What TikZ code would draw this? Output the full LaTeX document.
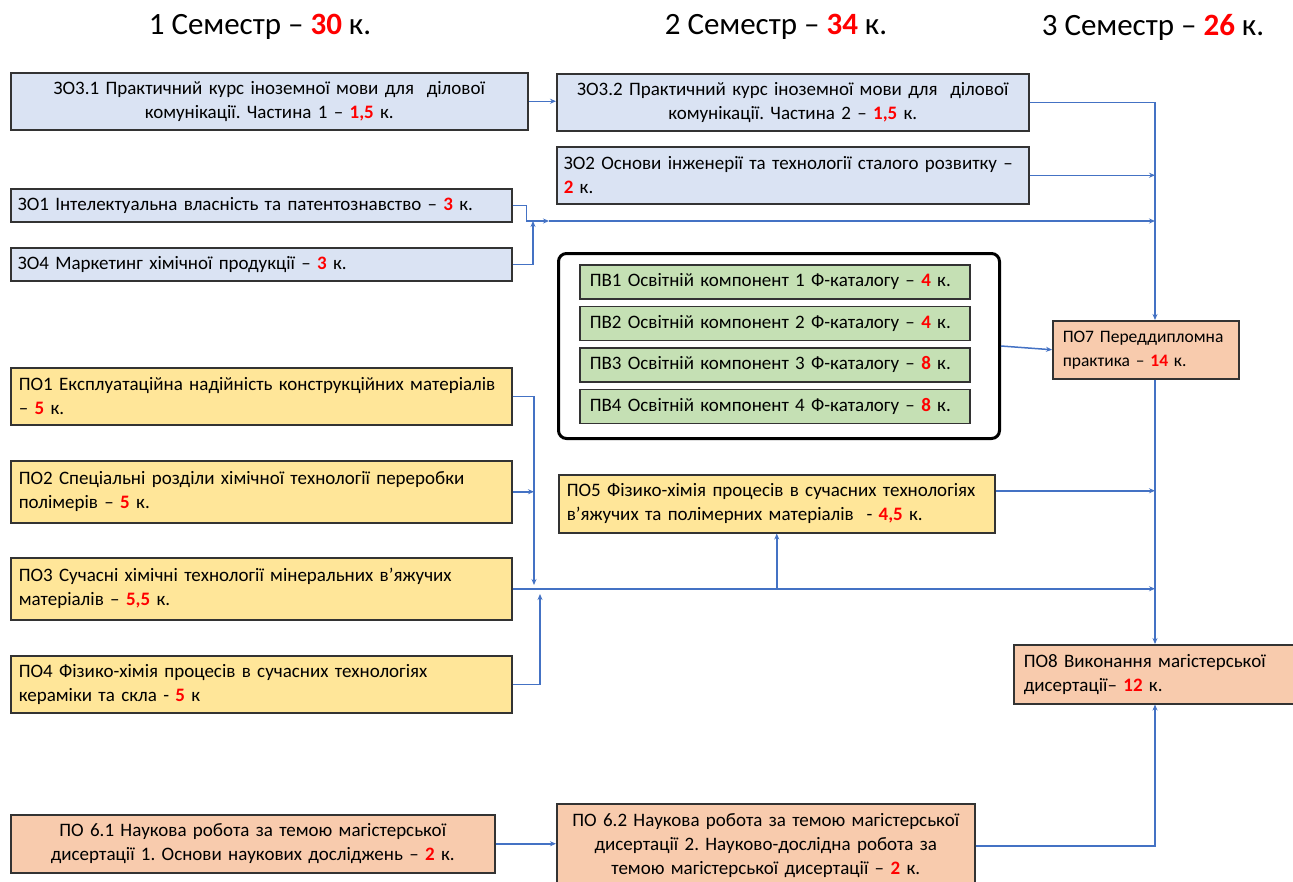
\documentclass[tikz,border=0pt]{standalone}
\usepackage{fontspec}
\setmainfont{Carlito}
\usetikzlibrary{arrows.meta,positioning}
\definecolor{azul}{HTML}{4472C4}
\definecolor{azulclaro}{HTML}{DAE3F3}
\definecolor{verde}{HTML}{C5E0B4}
\definecolor{amarillo}{HTML}{FFE699}
\definecolor{salmon}{HTML}{F8CBAD}
\definecolor{rojo}{HTML}{FF0000}
\newcommand{\kr}[1]{\textcolor{rojo}{\textbf{#1}}}
\frenchspacing
\begin{document}
\begin{tikzpicture}
[x=1pt,y=-1pt,
caja/.style={draw=black!80,line width=1.5pt,anchor=north west,inner sep=0pt,font=\fontsize{19}{24}\selectfont,align=left},
titulo/.style={font=\fontsize{31}{34}\selectfont},
linea/.style={draw=azul,line width=1.5pt},
flecha/.style={linea,-{Stealth[length=6pt,width=5pt]}}]
\useasboundingbox (0,0) rectangle (1293,881);
\node (sem1) [titulo] at (260,27) {1 Семестр – \kr{30} к.};
\node (sem2) [titulo] at (776,27) {2 Семестр – \kr{34} к.};
\node (sem3) [titulo] at (1153,27) {3 Семестр – \kr{26} к.};
% semestre 1
\node (zo31) [caja,fill=azulclaro,minimum width=517,minimum height=57,text width=503,align=center] at (10,72) {ЗО3.1 Практичний курс іноземної мови для\ \ ділової\\комунікації. Частина 1 – \kr{1,5} к.};
\node (zo1) [caja,fill=azulclaro,minimum width=501,minimum height=33,text width=487] at (10,188) {ЗО1 Інтелектуальна власність та патентознавство – \kr{3} к.};
\node (zo4) [caja,fill=azulclaro,minimum width=501,minimum height=33,text width=487] at (10,247) {ЗО4 Маркетинг хімічної продукції – \kr{3} к.};
\node (po1) [caja,fill=amarillo,minimum width=501,minimum height=57,text width=485] at (10,367) {ПО1 Експлуатаційна надійність конструкційних матеріалів\\– \kr{5} к.};
\node (po2) [caja,fill=amarillo,minimum width=501,minimum height=62,text width=485] at (10,460) {ПО2 Спеціальні розділи хімічної технології переробки\\полімерів – \kr{5} к.};
\node (po3) [caja,fill=amarillo,minimum width=501,minimum height=62,text width=485] at (10,557) {ПО3 Сучасні хімічні технології мінеральних в’яжучих\\матеріалів – \kr{5,5} к.};
\node (po4) [caja,fill=amarillo,minimum width=501,minimum height=57,text width=485] at (10,655) {ПО4 Фізико-хімія процесів в сучасних технологіях\\кераміки та скла - \kr{5} к};
\node (po61) [caja,fill=salmon,minimum width=484,minimum height=58,text width=470,align=center] at (10,814) {ПО 6.1 Наукова робота за темою магістерської\\дисертації 1. Основи наукових досліджень – \kr{2} к.};
% semestre 2
\node (zo32) [caja,fill=azulclaro,minimum width=472,minimum height=57,text width=458,align=center] at (556,73) {ЗО3.2 Практичний курс іноземної мови для\ \ ділової\\комунікації. Частина 2 – \kr{1,5} к.};
\node (zo2) [caja,fill=azulclaro,minimum width=472,minimum height=57,text width=458] at (556,146) {ЗО2 Основи інженерії та технології сталого розвитку –\\\kr{2} к.};
\node (marco) [draw=black,line width=3pt,rounded corners=8pt,anchor=north west,minimum width=441,minimum height=185] at (557,252) {};
\node (pv1) [caja,fill=verde,minimum width=390,minimum height=34,text width=370] at (579,264) {ПВ1 Освітній компонент 1 Ф-каталогу – \kr{4} к.};
\node (pv2) [caja,fill=verde,minimum width=390,minimum height=34,text width=370,below=6pt of pv1.south west,anchor=north west] {ПВ2 Освітній компонент 2 Ф-каталогу – \kr{4} к.};
\node (pv3) [caja,fill=verde,minimum width=390,minimum height=34,text width=370,below=6pt of pv2.south west,anchor=north west] {ПВ3 Освітній компонент 3 Ф-каталогу – \kr{8} к.};
\node (pv4) [caja,fill=verde,minimum width=390,minimum height=34,text width=370,below=6pt of pv3.south west,anchor=north west] {ПВ4 Освітній компонент 4 Ф-каталогу – \kr{8} к.};
\node (po5) [caja,fill=amarillo,minimum width=436,minimum height=58,text width=420] at (558,474) {ПО5 Фізико-хімія процесів в сучасних технологіях\\в’яжучих та полімерних матеріалів\ \ - \kr{4,5} к.};
\node (po62) [caja,fill=salmon,minimum width=418,minimum height=84,text width=406,align=center] at (556,803) {ПО 6.2 Наукова робота за темою магістерської\\дисертації 2. Науково-дослідна робота за\\темою магістерської дисертації – \kr{2} к.};
% semestre 3
\node (po7) [caja,fill=salmon,minimum width=186,minimum height=58,text width=166,font=\fontsize{17.5}{24}\selectfont] at (1052,320) {ПО7 Переддипломна\\практика – \kr{14} к.};
\node (po8) [caja,fill=salmon,minimum width=284,minimum height=59,text width=264] at (1013,644) {ПО8 Виконання магістерської\\дисертації– \kr{12} к.};

\coordinate (bus) at (1155,60);
\coordinate (union1) at (549,221);
\coordinate (cruce1) at (533,221);
\coordinate (cruce2) at (534,585);
\coordinate (cruce3) at (540,594);
\coordinate (salida5) at ([yshift=13pt]po5.east);

\draw[flecha] (zo31.east) -- (zo31.east -| zo32.west);
\draw[flecha] (zo32.east) -| (bus |- po7.north);
\draw[flecha] (zo2.east) -- (bus |- zo2.east);
\draw[flecha] (zo1.east) -- ++(14,0) |- (union1);
\draw[flecha] (zo4.east) -| (cruce1);
\draw[flecha] (union1) -- (bus |- union1);
\draw[flecha] (marco.east) -- (po7.west);
\draw[flecha] (bus |- po7.south) -- (bus |- po8.north);
\draw[flecha] (salida5) -- (bus |- salida5);
\draw[flecha] (po1.east) -| (cruce2);
\draw[flecha] (po2.east) -- (po2.east -| cruce2);
\draw[flecha] (po3.east) -- (bus |- po3.east);
\draw[flecha] (po4.east) -| (cruce3);
\draw[flecha] (po5.south |- po3.east) -- (po5.south);
\draw[flecha] (po61.east) -- (po61.east -| po62.west);
\draw[flecha] (po62.east) -| (bus |- po8.south);
\end{tikzpicture}
\end{document}
